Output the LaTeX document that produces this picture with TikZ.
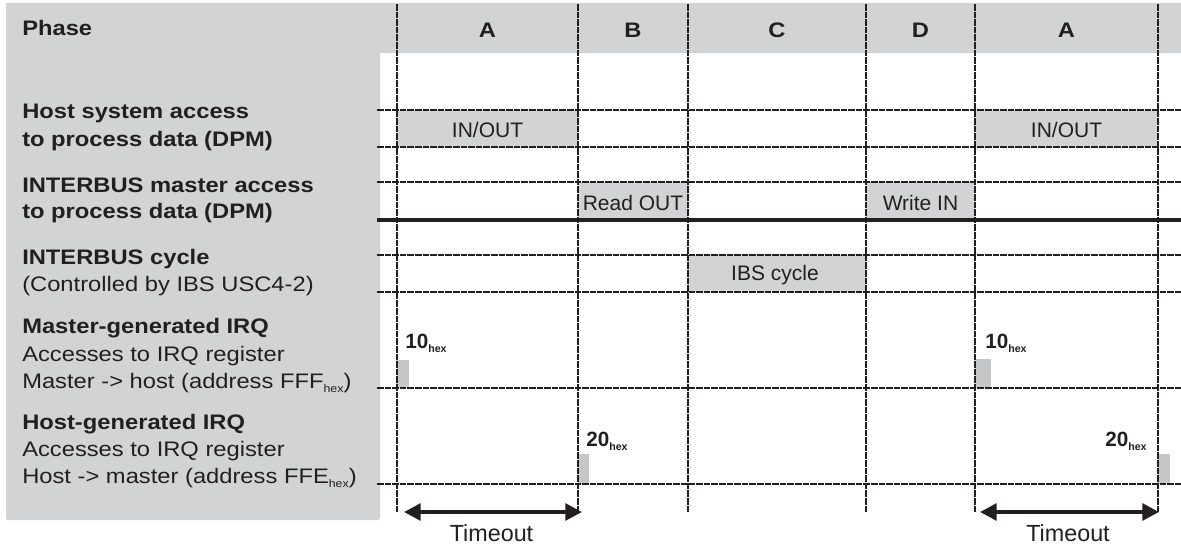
\documentclass[tikz,border=0pt]{standalone}
\usepackage{fontspec}
\setmainfont{Liberation Sans}
\newfontfamily\widefont{Liberation Sans}[FakeStretch=1.13]
\usetikzlibrary{arrows.meta}
\definecolor{ink}{HTML}{231F20}
\definecolor{panel}{HTML}{D1D3D4}
\definecolor{irqgray}{HTML}{C4C6C8}
\newcommand\hexsub{\raisebox{-3pt}{\fontsize{8.2}{8.2}\selectfont hex}}
\newcommand\hexbold{\raisebox{-3.6pt}{\fontsize{8}{8}\selectfont\bfseries hex}}
\tikzset{
  gridline/.style={draw=ink, line width=2.1pt, dash pattern=on 5pt off 0.7pt},
  thickline/.style={draw=ink, line width=2.9pt},
  panelfill/.style={fill=panel, draw=none},
  irqbox/.style={fill=irqgray, draw=none},
  lefttxt/.style={inner sep=0pt, anchor=base west, text=ink,
    font=\widefont\fontsize{15.75}{18}\selectfont},
  lefthead/.style={lefttxt, font=\widefont\fontsize{15.75}{18}\selectfont\bfseries},
  colhead/.style={inner sep=0pt, anchor=base, text=ink,
    font=\widefont\fontsize{15.75}{18}\selectfont\bfseries},
  celltxt/.style={inner sep=0pt, anchor=base, text=ink,
    font=\fontsize{15.75}{18}\selectfont},
  irqtxt/.style={inner sep=0pt, anchor=base west, text=ink,
    font=\fontsize{15.5}{18}\selectfont\bfseries},
  timetxt/.style={inner sep=0pt, anchor=base, text=ink,
    font=\fontsize{17.5}{20}\selectfont},
  timearrow/.style={draw=ink, line width=2.8pt,
    {Triangle[length=12.5pt,width=12.5pt]}-{Triangle[length=12.5pt,width=12.5pt]}}
}
\begin{document}
\begin{tikzpicture}[x=0.75pt,y=-0.75pt]
\useasboundingbox (0,0) rectangle (1181,546);
% gray panels
\fill[panelfill, rounded corners=1.5pt] (6,3) rectangle (380,520);
\fill[panelfill] (6,3) rectangle (1181,53);
% gray cells
\fill[panelfill] (397,110) rectangle (578,147);
\fill[panelfill] (975,110) rectangle (1158,147);
\fill[panelfill] (578,182) rectangle (688,220);
\fill[panelfill] (866,182) rectangle (975,220);
\fill[panelfill] (688,255) rectangle (866,292);
% IRQ pulses
\fill[irqbox] (397,360) rectangle (409,388);
\fill[irqbox] (975,359) rectangle (991,388);
\fill[irqbox] (578,454) rectangle (589,484);
\fill[irqbox] (1158,454) rectangle (1170,484);
% horizontal grid lines
\foreach \i/\y in {1/110,2/147,3/182,5/255,6/292,7/388,8/484}{
  \coordinate (hl\i) at (377,\y);
  \coordinate (hr\i) at (1181,\y);
  \draw[gridline] (hl\i) -- (hr\i);
}
\coordinate (hl4) at (377,220);
\coordinate (hr4) at (1181,220);
\draw[thickline] (hl4) -- (hr4);
% vertical grid lines
\foreach \i/\x in {1/397,2/578,3/688,4/866,5/975,6/1158}{
  \coordinate (vt\i) at (\x,4);
  \coordinate (vb\i) at (\x,512);
  \draw[gridline] (vt\i) -- (vb\i);
}
% left panel texts
\node[lefthead] (phase) at (22,36) {Phase};
\node[lefthead] (h1a) at (22,118) {Host system access};
\node[lefthead] (h1b) at (22,146) {to process data (DPM)};
\node[lefthead] (h2a) at (22,192) {INTERBUS master access};
\node[lefthead] (h2b) at (22,218) {to process data (DPM)};
\node[lefthead] (h3a) at (22,264) {INTERBUS cycle};
\node[lefttxt] (h3b) at (22,291) {(Controlled by IBS USC4-2)};
\node[lefthead] (h4a) at (22,333) {Master-generated IRQ};
\node[lefttxt] (h4b) at (22,361) {Accesses to IRQ register};
\node[lefttxt] (h4c) at (22,388) {Master -> host (address FFF\hexsub)};
\node[lefthead] (h5a) at (22,429) {Host-generated IRQ};
\node[lefttxt] (h5b) at (22,456) {Accesses to IRQ register};
\node[lefttxt] (h5c) at (22,483) {Host -> master (address FFE\hexsub)};
% column headers
\node[colhead] (pa1) at (487.5,37) {A};
\node[colhead] (pb) at (633,37) {B};
\node[colhead] (pc) at (777,37) {C};
\node[colhead] (pd) at (920.5,37) {D};
\node[colhead] (pa2) at (1066.5,37) {A};
% cell texts
\node[celltxt] (io1) at (487.5,137) {IN/OUT};
\node[celltxt] (io2) at (1066.5,137) {IN/OUT};
\node[celltxt] (rd) at (633,210) {Read OUT};
\node[celltxt] (wr) at (920.5,210) {Write IN};
\node[celltxt] (ibs) at (775,280) {IBS cycle};
% IRQ labels
\node[irqtxt] (q1) at (405,348) {10\hexbold};
\node[irqtxt] (q2) at (985,348) {10\hexbold};
\node[irqtxt] (q3) at (586,446) {20\hexbold};
\node[irqtxt] (q4) at (1105,446) {20\hexbold};
% timeout arrows
\coordinate (t1l) at (404,512);
\coordinate (t1r) at (582,512);
\coordinate (t2l) at (980,512);
\coordinate (t2r) at (1159,512);
\draw[timearrow] (t1l) -- (t1r);
\draw[timearrow] (t2l) -- (t2r);
\node[timetxt] (to1) at (491.5,541) {Timeout};
\node[timetxt] (to2) at (1068,541) {Timeout};
\end{tikzpicture}
\end{document}
